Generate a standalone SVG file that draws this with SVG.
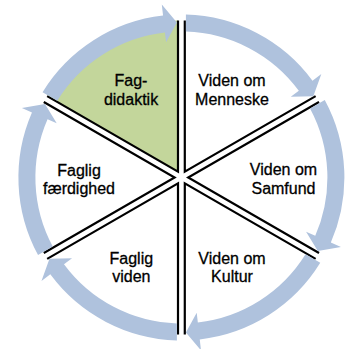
<svg xmlns="http://www.w3.org/2000/svg" xmlns:xlink="http://www.w3.org/1999/xlink" width="346" height="349" viewBox="0 0 346 349">
<style>
.fill{fill:#ffffff;stroke:none}
.green{fill:#c3d69b;stroke:none}
.edge{fill:none;stroke:#000000;stroke-width:2.2;stroke-linejoin:miter}
.arrow{fill:#afc2dd;stroke:none}
text{font-family:"Liberation Sans",Arial,sans-serif;font-size:16px;fill:#000000;stroke:#000000;stroke-width:0.3;text-anchor:middle}
</style>
<defs>
<path id="wedgeFill" d="M6.8,0 L137.63,-75.54 A157,157 0 0 1 137.63,75.54 Z"/>
<path id="wedgeEdge" d="M137.63,-75.54 L6.8,0 L137.63,75.54"/>
<path id="arrow" d="M-138.85,-85.37 A163,163 0 0 1 -18.35,-161.96 L-19.59,-172.89 L-4.5,-154.93 L-15.31,-135.13 L-16.44,-145.07 A146,146 0 0 0 -124.12,-76.87 Z"/>
</defs>
<rect width="346" height="349" fill="#ffffff"/>
<g id="node-fagdidaktik">
<use xlink:href="#wedgeFill" class="green" transform="translate(181.4 177.5) rotate(240)"/>
<use xlink:href="#wedgeEdge" class="edge" transform="translate(181.4 177.5) rotate(240)"/>
<text x="131" y="86">Fag-</text>
<text x="131" y="105">didaktik</text>
</g>
<g id="node-menneske">
<use xlink:href="#wedgeFill" class="fill" transform="translate(181.4 177.5) rotate(300)"/>
<use xlink:href="#wedgeEdge" class="edge" transform="translate(181.4 177.5) rotate(300)"/>
<text x="232" y="86">Viden om</text>
<text x="232" y="105">Menneske</text>
</g>
<g id="node-samfund">
<use xlink:href="#wedgeFill" class="fill" transform="translate(181.4 177.5)"/>
<use xlink:href="#wedgeEdge" class="edge" transform="translate(181.4 177.5)"/>
<text x="283.5" y="175">Viden om</text>
<text x="283.5" y="193.5">Samfund</text>
</g>
<g id="node-kultur">
<use xlink:href="#wedgeFill" class="fill" transform="translate(181.4 177.5) rotate(60)"/>
<use xlink:href="#wedgeEdge" class="edge" transform="translate(181.4 177.5) rotate(60)"/>
<text x="232" y="263.5">Viden om</text>
<text x="232" y="282">Kultur</text>
</g>
<g id="node-faglig-viden">
<use xlink:href="#wedgeFill" class="fill" transform="translate(181.4 177.5) rotate(120)"/>
<use xlink:href="#wedgeEdge" class="edge" transform="translate(181.4 177.5) rotate(120)"/>
<text x="131.3" y="263.5">Faglig</text>
<text x="131.3" y="282">viden</text>
</g>
<g id="node-faglig-faerdighed">
<use xlink:href="#wedgeFill" class="fill" transform="translate(181.4 177.5) rotate(180)"/>
<use xlink:href="#wedgeEdge" class="edge" transform="translate(181.4 177.5) rotate(180)"/>
<text x="79" y="175.5">Faglig</text>
<text x="79" y="193.5">færdighed</text>
</g>
<g id="connectors">
<use xlink:href="#arrow" class="arrow" transform="translate(181.4 177.5)"/>
<use xlink:href="#arrow" class="arrow" transform="translate(181.4 177.5) rotate(60)"/>
<use xlink:href="#arrow" class="arrow" transform="translate(181.4 177.5) rotate(120)"/>
<use xlink:href="#arrow" class="arrow" transform="translate(181.4 177.5) rotate(180)"/>
<use xlink:href="#arrow" class="arrow" transform="translate(181.4 177.5) rotate(240)"/>
<use xlink:href="#arrow" class="arrow" transform="translate(181.4 177.5) rotate(300)"/>
</g>
</svg>
